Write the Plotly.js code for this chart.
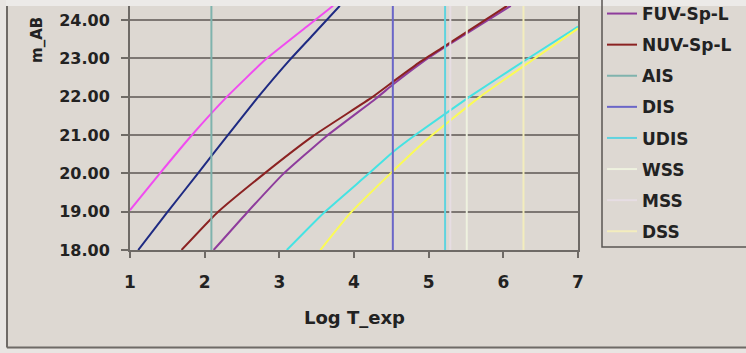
<!DOCTYPE html>
<html>
<head>
<meta charset="utf-8">
<script src="https://cdn.plot.ly/plotly-3.0.1.min.js"></script>
<style>html,body{margin:0;padding:0;background:#ddd8d2;}#chart{width:746px;height:353px;}</style>
</head>
<body>
<div id="chart"></div>
<script>
// Curves (x = Log T_exp, y = m_AB)
const pinkX   = [1.00, 1.40, 1.83, 2.30, 2.81, 3.37, 3.72];
const pinkY   = [19.04, 20.00, 21.00, 22.00, 22.96, 23.83, 24.37];
const navyX   = [1.11, 1.49, 1.91, 2.30, 2.72, 3.14, 3.43, 3.81];
const navyY   = [18.00, 18.96, 20.00, 20.97, 22.00, 22.96, 23.57, 24.37];
const nuvSpX  = [1.69, 2.16, 2.79, 3.45, 4.24, 4.53, 4.88, 5.20, 6.05];
const nuvSpY  = [18.00, 18.96, 19.98, 20.97, 21.98, 22.40, 22.90, 23.30, 24.37];
const fuvSpX  = [2.12, 2.56, 3.05, 3.63, 4.30, 4.53, 4.88, 5.20, 6.10];
const fuvSpY  = [18.00, 18.96, 19.98, 20.97, 21.96, 22.33, 22.85, 23.27, 24.37];
const cyanX   = [3.10, 3.59, 4.19, 4.53, 4.82, 5.55, 6.31, 7.00];
const cyanY   = [18.00, 18.96, 19.98, 20.57, 21.00, 22.00, 22.97, 23.83];
const yellowX = [3.55, 3.95, 4.48, 5.00, 5.69, 6.40, 7.00];
const yellowY = [18.00, 18.96, 19.98, 20.92, 22.00, 22.97, 23.78];

// Survey exposure markers (Log T_exp)
const surveyNames = ["AIS", "DIS", "UDIS", "WSS", "MSS", "DSS"];
const surveyLogT  = [2.09, 4.52, 5.22, 5.51, 5.29, 6.27];
const surveyColors = ["#7fb3ad", "#6a66c8", "#5fd3df", "#eef2df", "#e6dde3", "#f3edbd"];

const yTicks = [18, 19, 20, 21, 22, 23, 24];
const xTicks = [1, 2, 3, 4, 5, 6, 7];
const yMin = 18, yMax = 24.365;

const fontFam = "DejaVu Sans, Verdana, sans-serif";
const traces = [];
function curve(x, y, color, name, show) {
  traces.push({x: x, y: y, type: "scatter", mode: "lines", name: name,
    line: {color: color, width: 2, shape: "spline", smoothing: 0.4},
    showlegend: show, legendgroup: name, hoverinfo: "skip"});
}
curve(pinkX, pinkY, "#f04cf0", "c1", false);
curve(navyX, navyY, "#1e2a82", "c2", false);
curve(cyanX, cyanY, "#45e3e3", "c3", false);
curve(yellowX, yellowY, "#fbfb55", "c4", false);
curve(fuvSpX, fuvSpY, "#8e3c9c", "FUV-Sp-L", true);
curve(nuvSpX, nuvSpY, "#8b2222", "NUV-Sp-L", true);
surveyNames.forEach((n, i) => {
  traces.push({x: [surveyLogT[i], surveyLogT[i]], y: [yMin, yMax], type: "scatter", mode: "lines",
    name: n, line: {color: surveyColors[i], width: 2}, showlegend: true, legendgroup: n, hoverinfo: "skip"});
});

const px = v => (v - 130) / 448;
const py = v => (250 - v) / 244;

const layout = {
  width: 746, height: 353,
  margin: {l: 130, r: 168, t: 6, b: 103, autoexpand: false},
  paper_bgcolor: "#ddd8d2", plot_bgcolor: "#ddd8d2",
  font: {family: fontFam, color: "#222"},
  showlegend: true,
  xaxis: {range: [1, 7], tickvals: xTicks, ticktext: xTicks.map(String), showgrid: false,
    zeroline: false, showline: true, linecolor: "#6e6a66", linewidth: 2,
    ticks: "outside", ticklen: 6, tickwidth: 2, tickcolor: "#6e6a66",
    tickfont: {family: fontFam, size: 17, color: "#222", weight: "bold"}, ticklabelstandoff: 10, fixedrange: true},
  yaxis: {range: [yMin, yMax], tickvals: yTicks, ticktext: yTicks.map(v => v.toFixed(2)),
    showgrid: true, gridcolor: "#7d7773", gridwidth: 2, zeroline: false,
    showline: true, linecolor: "#6e6a66", linewidth: 2, mirror: true,
    ticks: "outside", ticklen: 7, tickwidth: 2, tickcolor: "#6e6a66",
    tickfont: {family: fontFam, size: 16, color: "#222", weight: "bold"}, ticklabelstandoff: 8, fixedrange: true},
  legend: {x: px(602), xanchor: "left", y: py(240), yanchor: "bottom",
    bgcolor: "rgba(0,0,0,0)", borderwidth: 0,
    font: {family: fontFam, size: 17, color: "#222", weight: "bold"},
    tracegroupgap: 6, traceorder: "grouped", itemclick: false},
  annotations: [
    {text: "m_AB", textangle: -90, xref: "paper", yref: "paper", x: px(37), y: py(40),
     xanchor: "center", yanchor: "middle", showarrow: false,
     font: {family: fontFam, size: 15, color: "#222", weight: "bold"}},
    {text: "Log T_exp", xref: "paper", yref: "paper", x: 0.5, y: py(317),
     xanchor: "center", yanchor: "middle", showarrow: false,
     font: {family: fontFam, size: 18, color: "#222", weight: "bold"}}
  ],
  shapes: [
    {type: "rect", xref: "paper", yref: "paper", x0: px(-5), x1: px(760), y0: py(6), y1: py(-5),
     fillcolor: "#eceae8", line: {width: 0}, layer: "below"},
    {type: "line", xref: "paper", yref: "paper", x0: px(7), x1: px(7), y0: py(6), y1: py(347.5),
     line: {color: "#6e6a66", width: 2}},
    {type: "line", xref: "paper", yref: "paper", x0: px(7), x1: px(760), y0: py(347.5), y1: py(347.5),
     line: {color: "#6e6a66", width: 2}},
    {type: "rect", xref: "paper", yref: "paper", x0: px(-5), x1: px(6), y0: py(0), y1: py(360),
     fillcolor: "#e8e5e2", line: {width: 0}, layer: "below"},
    {type: "rect", xref: "paper", yref: "paper", x0: px(-5), x1: px(760), y0: py(348.5), y1: py(360),
     fillcolor: "#e8e5e2", line: {width: 0}, layer: "below"},
    {type: "rect", xref: "paper", yref: "paper", x0: px(602), x1: px(800), y0: py(247), y1: py(-20),
     fillcolor: "rgba(0,0,0,0)", line: {color: "#5a5653", width: 1.5}}
  ]
};

Plotly.newPlot("chart", traces, layout, {staticPlot: true, displayModeBar: false});
</script>
</body>
</html>
